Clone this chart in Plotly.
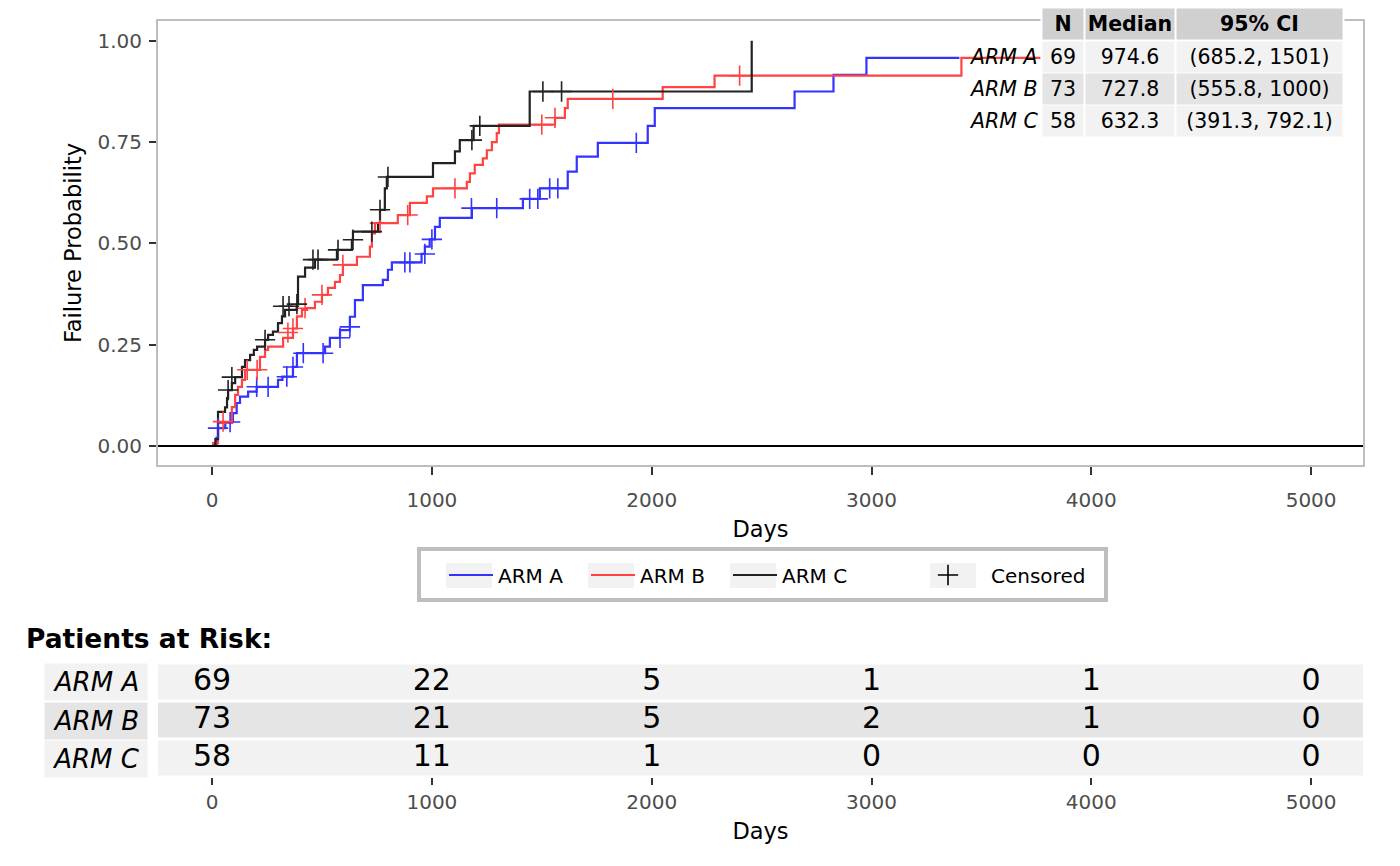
import plotly.graph_objects as go

# ---- data ----
arms = ["ARM A", "ARM B", "ARM C"]

a_days = [0, 20, 27, 60, 95, 112, 127, 164, 203, 300, 320, 368, 386, 514, 536, 582, 627, 650, 686,
          777, 800, 818, 953, 968, 990, 1014, 1036, 1182, 1414, 1491, 1618, 1659, 1755, 1982, 2014,
          2650, 2827, 2977, 3400]
a_fail = [0, 0.02, 0.044, 0.059, 0.081, 0.106, 0.122, 0.134, 0.146, 0.163, 0.171, 0.195, 0.229,
          0.245, 0.267, 0.286, 0.319, 0.36, 0.397, 0.41, 0.435, 0.453, 0.474, 0.492, 0.51, 0.541,
          0.563, 0.587, 0.61, 0.636, 0.677, 0.714, 0.748, 0.79, 0.834, 0.875, 0.916, 0.958, 0.958]
a_cens_days = [27, 82, 203, 255, 340, 368, 415, 505, 582, 627, 877, 900, 968, 1000, 1180, 1295,
               1445, 1482, 1536, 1573, 1930]
a_cens_fail = [0.044, 0.059, 0.146, 0.146, 0.171, 0.195, 0.229, 0.229, 0.267, 0.294, 0.453, 0.453,
               0.474, 0.51, 0.587, 0.587, 0.61, 0.61, 0.636, 0.636, 0.748]

b_days = [0, 5, 27, 90, 105, 118, 136, 150, 218, 241, 255, 323, 368, 386, 409, 432, 468, 500, 527,
          559, 582, 595, 659, 718, 727, 741, 845, 900, 977, 1005, 1159, 1173, 1195, 1232, 1250, 1273,
          1295, 1305, 1560, 1605, 1618, 2050, 2286, 3409, 3770]
b_fail = [0, 0.007, 0.057, 0.096, 0.126, 0.146, 0.163, 0.188, 0.22, 0.237, 0.245, 0.267, 0.29,
          0.32, 0.336, 0.34, 0.356, 0.373, 0.39, 0.405, 0.422, 0.447, 0.467, 0.492, 0.525, 0.55,
          0.57, 0.6, 0.616, 0.636, 0.652, 0.673, 0.694, 0.71, 0.73, 0.75, 0.772, 0.793, 0.81, 0.834,
          0.857, 0.886, 0.914, 0.958, 0.958]
b_cens_days = [50, 160, 205, 345, 368, 423, 500, 595, 764, 890, 1105, 1500, 1560, 1823, 2400]
b_cens_fail = [0.06, 0.188, 0.188, 0.28, 0.29, 0.34, 0.373, 0.447, 0.55, 0.57, 0.636, 0.793, 0.81,
               0.857, 0.914]

c_days = [0, 15, 27, 59, 68, 73, 90, 105, 136, 150, 173, 190, 205, 241, 255, 277, 300, 318, 332,
          386, 391, 423, 468, 568, 636, 641, 755, 764, 786, 795, 1005, 1105, 1127, 1190, 1445, 2455,
          2455]
c_fail = [0, 0.017, 0.084, 0.095, 0.118, 0.138, 0.155, 0.17, 0.195, 0.212, 0.225, 0.237, 0.245,
          0.262, 0.274, 0.282, 0.303, 0.32, 0.336, 0.35, 0.418, 0.44, 0.46, 0.484, 0.509, 0.529,
          0.55, 0.583, 0.636, 0.664, 0.698, 0.727, 0.755, 0.79, 0.875, 0.875, 1.0]
c_cens_days = [73, 90, 241, 323, 350, 386, 459, 482, 573, 641, 727, 764, 800, 1182, 1218, 1505, 1590]
c_cens_fail = [0.138, 0.17, 0.262, 0.345, 0.345, 0.35, 0.46, 0.46, 0.484, 0.509, 0.529, 0.583,
               0.664, 0.755, 0.79, 0.875, 0.875]

# summary table (top right)
table_cols = ["N", "Median", "95% CI"]
n_pat = ["69", "73", "58"]
median = ["974.6", "727.8", "632.3"]
ci = ["(685.2, 1501)", "(555.8, 1000)", "(391.3, 792.1)"]

# patients at risk
risk_days = [0, 1000, 2000, 3000, 4000, 5000]
risk_a = [69, 22, 5, 1, 1, 0]
risk_b = [73, 21, 5, 2, 1, 0]
risk_c = [58, 11, 1, 0, 0, 0]

colors = ["#3333FF", "#FF4343", "#222222"]
FONT = "DejaVu Sans"

# plot area in screenshot pixels; the page puts the figure 8px in from the corner
OFF = 8
L, R, T, B = 158, 1363, 21, 777


def px_x(px):
    return (px - L) / (R - L)


def px_y(py):
    return (B - py) / (B - T)


fig = go.Figure()

curves = [(a_days, a_fail, a_cens_days, a_cens_fail),
          (b_days, b_fail, b_cens_days, b_cens_fail),
          (c_days, c_fail, c_cens_days, c_cens_fail)]

for arm, col, (d, f, cd, cf) in zip(arms, colors, curves):
    fig.add_trace(go.Scatter(x=d, y=f, mode="lines", name=arm, legend="legend",
                             line=dict(shape="hv", color=col, width=2.2)))
for arm, col, (d, f, cd, cf) in zip(arms, colors, curves):
    fig.add_trace(go.Scatter(x=cd, y=cf, mode="markers", showlegend=False,
                             marker=dict(symbol="cross-thin", size=14.5,
                                         line=dict(width=1.6, color=col))))

fig.add_trace(go.Scatter(x=[None], y=[None], mode="markers", name="Censored", legend="legend2",
                         marker=dict(symbol="cross-thin", size=14.5,
                                     line=dict(width=1.6, color="black"))))

# risk table numbers
for i, counts in enumerate([risk_a, risk_b, risk_c]):
    fig.add_trace(go.Scatter(x=risk_days, y=[i] * len(risk_days), mode="text",
                             text=[str(v) for v in counts], showlegend=False,
                             textfont=dict(size=30, color="black", family=FONT),
                             xaxis="x2", yaxis="y2"))

tick_font = dict(size=20, color="#4D4D4D", family=FONT)
title_font = dict(size=22.5, color="black", family=FONT)
x_range = [-246, 5236]
leg_font = dict(size=20, color="black", family=FONT)

fig.update_layout(
    width=1400, height=866,
    margin=dict(l=L - OFF, r=1400 - (R - OFF), t=T - OFF, b=866 - (B - OFF)),
    paper_bgcolor="white", plot_bgcolor="white",
    font=dict(family=FONT),
    xaxis=dict(domain=[0, 1], anchor="y", range=x_range, tickvals=risk_days,
               ticks="outside", ticklen=8, tickwidth=2, tickcolor="#333333",
               ticklabelstandoff=8,
               tickfont=tick_font, showgrid=False, zeroline=False,
               showline=True, mirror=True, linecolor="#BEBEBE", linewidth=2,
               title=dict(text="Days", font=title_font, standoff=10)),
    yaxis=dict(domain=[px_y(465), 1], anchor="x", range=[-0.047, 1.049],
               tickvals=[0, 0.25, 0.5, 0.75, 1.0], tickformat=".2f",
               ticks="outside", ticklen=7, tickwidth=2, tickcolor="#333333",
               ticklabelstandoff=3,
               tickfont=tick_font, showgrid=False, zeroline=False,
               showline=True, mirror=True, linecolor="#BEBEBE", linewidth=2,
               title=dict(text="Failure Probability", font=title_font, standoff=10)),
    xaxis2=dict(domain=[0, 1], anchor="y2", range=x_range, tickvals=risk_days,
                ticks="outside", ticklen=7, tickwidth=2, tickcolor="#333333",
                tickfont=tick_font, showgrid=False, zeroline=False, showline=False,
                title=dict(text="Days", font=title_font, standoff=10)),
    yaxis2=dict(domain=[0, px_y(663)], anchor="x2", range=[2.5, -0.5],
                showticklabels=False, ticks="", showgrid=False, zeroline=False,
                showline=False),
    legend=dict(orientation="h", x=px_x(444), y=px_y(575), xanchor="left",
                yanchor="middle", borderwidth=0, bgcolor="rgba(0,0,0,0)",
                font=leg_font, itemwidth=44, entrywidth=83),
    legend2=dict(orientation="h", x=px_x(905), y=px_y(575), xanchor="left",
                 yanchor="middle", borderwidth=0, bgcolor="rgba(0,0,0,0)",
                 font=leg_font, itemwidth=76),
    showlegend=True,
)

shapes = [dict(type="line", xref="x domain", yref="y", x0=0, x1=1, y0=0, y1=0,
               line=dict(color="black", width=2))]
band_fill = ["#F2F2F2", "#E5E5E5", "#F2F2F2"]
for i in range(3):
    shapes.append(dict(type="rect", xref="x2 domain", yref="y2", x0=0, x1=1,
                       y0=i - 0.46, y1=i + 0.46, fillcolor=band_fill[i],
                       line=dict(width=0), layer="below"))

# legend frame and grey key backgrounds
shapes.append(dict(type="rect", xref="paper", yref="paper", x0=px_x(419), x1=px_x(1106),
                   y0=px_y(600), y1=px_y(549), line=dict(color="#BEBEBE", width=4)))
for kx in [446, 588, 730, 930]:
    shapes.append(dict(type="rect", xref="paper", yref="paper", x0=px_x(kx), x1=px_x(kx + 46),
                       y0=px_y(588), y1=px_y(563), fillcolor="#F2F2F2", line=dict(width=0)))
fig.update_layout(shapes=shapes)

ann = []


def box(x0, x1, y0, y1, text, fill, font, align="center"):
    ann.append(dict(xref="paper", yref="paper", x=px_x((x0 + x1) / 2), y=px_y((y0 + y1) / 2),
                    xanchor="center", yanchor="middle", width=x1 - x0, height=y1 - y0,
                    text=text, bgcolor=fill, borderpad=0, showarrow=False, font=font,
                    align=align))


# summary table
cell_font = dict(size=20.5, color="black", family=FONT)
col_x = [(1043, 1083), (1086, 1174), (1177, 1342)]
row_y = [(42, 72), (74, 104), (106, 136)]
box(1041, 1344, 7, 138, "", "white", cell_font)
for (x0, x1), name in zip(col_x, table_cols):
    box(x0, x1, 9, 39, "<b>" + name + "</b>", "#D0D0D0", cell_font)
row_fill = ["#F2F2F2", "#E4E4E4", "#F2F2F2"]
for i, (y0, y1) in enumerate(row_y):
    for (x0, x1), vals in zip(col_x, [n_pat, median, ci]):
        box(x0, x1, y0, y1, vals[i], row_fill[i], cell_font)
    ann.append(dict(xref="paper", yref="paper", x=px_x(1040), y=px_y((y0 + y1) / 2),
                    xanchor="right", yanchor="middle", text="<i>" + arms[i] + "</i>",
                    showarrow=False, font=cell_font))

# patients at risk labels
risk_lab_font = dict(size=26, color="black", family=FONT)
risk_rows = [(664, 700), (703, 739), (741, 777)]
for i, (y0, y1) in enumerate(risk_rows):
    box(45, 147, y0, y1, "<i>" + arms[i] + "</i>", band_fill[i], risk_lab_font)

ann.append(dict(xref="paper", yref="paper", x=px_x(24), y=px_y(638), xanchor="left",
                yanchor="middle", text="<b>Patients at Risk:</b>", showarrow=False,
                font=dict(size=26.5, color="black", family=FONT)))

fig.update_layout(annotations=ann)

fig.write_html("out.html")
